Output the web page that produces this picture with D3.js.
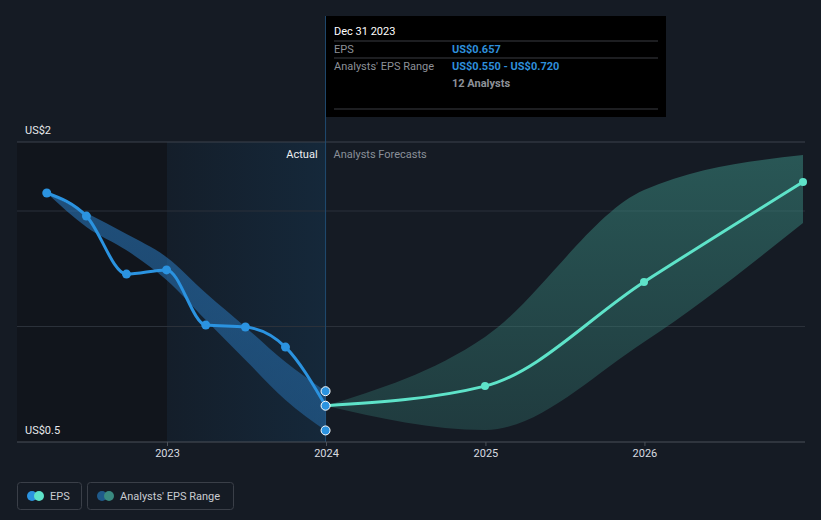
<!DOCTYPE html>
<html><head><meta charset="utf-8">
<script src="https://cdn.jsdelivr.net/npm/d3@7/dist/d3.min.js"></script>
<style>
html,body{margin:0;padding:0;background:#151b24;}
svg{display:block;font-family:Roboto,"Open Sans",sans-serif;}
</style></head><body>
<svg id="chart" width="821" height="520"></svg>
<script>
// ---- data ----
const pastDates = ["2022-03-31","2022-06-30","2022-09-30","2022-12-31","2023-03-31","2023-06-30","2023-09-30","2023-12-31"];
const pastEPS   = [1.578, 1.478, 1.227, 1.245, 1.006, 0.998, 0.911, 0.657];
const pastLow   = [1.578, 1.431, 1.330, 1.201, 1.028, 0.855, 0.682, 0.550];
const pastHigh  = [1.578, 1.491, 1.400, 1.300, 1.145, 0.998, 0.846, 0.720];
const fcDates = ["2023-12-31","2024-12-31","2025-12-31","2026-12-31"];
const fcEPS   = [0.657, 0.742, 1.193, 1.626];
const fcLow   = [0.657, 0.552, 0.933, 1.448];
const fcHigh  = [0.657, 0.955, 1.591, 1.742];
const xTickLabels = ["2023","2024","2025","2026"];
const yGridValues = [1.0, 1.5];
const yTickLabels = ["US$2","US$0.5"];
const tooltipTitle = "Dec 31 2023";
const tooltipRows = [["EPS","US$0.657"],["Analysts' EPS Range","US$0.550 - US$0.720"],["","12 Analysts"]];
const legendItems = ["EPS","Analysts' EPS Range"];

(function(){
// ---- scales ----
const parse = d3.timeParse("%Y-%m-%d");
const svg = d3.select("#chart");
const x = d3.scaleTime().domain([new Date(2023,0,1), new Date(2024,0,1)]).range([167,326]);
const y = d3.scaleLinear().domain([0.5,1.5]).range([442,211]);
const pL = 17, pR = 805, pT = 142, pB = 442;
const nowX = x(parse("2023-12-31"));
const x2023 = x(new Date(2023,0,1));

const defs = svg.append("defs");
const g1 = defs.append("linearGradient").attr("id","hl").attr("x1",0).attr("x2",1).attr("y1",0).attr("y2",0);
g1.append("stop").attr("offset","0%").attr("stop-color","#141e2a");
g1.append("stop").attr("offset","100%").attr("stop-color","#15283a");
const g2 = defs.append("linearGradient").attr("id","fcband").attr("gradientUnits","userSpaceOnUse").attr("x1",0).attr("x2",0).attr("y1",pT).attr("y2",pB);
g2.append("stop").attr("offset","0%").attr("stop-color","#3a8a80").attr("stop-opacity",0.55);
g2.append("stop").attr("offset","100%").attr("stop-color","#3a8a80").attr("stop-opacity",0.28);
const g3 = defs.append("linearGradient").attr("id","pband").attr("gradientUnits","userSpaceOnUse").attr("x1",0).attr("x2",0).attr("y1",pT).attr("y2",pB);
g3.append("stop").attr("offset","0%").attr("stop-color","#2a7cc4").attr("stop-opacity",0.6);
g3.append("stop").attr("offset","100%").attr("stop-color","#2a7cc4").attr("stop-opacity",0.42);

// background regions
svg.append("rect").attr("x",pL).attr("y",pT).attr("width",x2023-pL).attr("height",pB-pT).attr("fill","#11151c");
svg.append("rect").attr("x",x2023).attr("y",pT).attr("width",nowX-x2023).attr("height",pB-pT).attr("fill","url(#hl)");

// grid
svg.selectAll(".grid").data(yGridValues).enter().append("line")
  .attr("x1",pL).attr("x2",pR).attr("y1",d=>y(d)).attr("y2",d=>y(d))
  .attr("stroke","#2b313a").attr("stroke-width",1);
svg.append("line").attr("x1",pL).attr("x2",pR).attr("y1",pT).attr("y2",pT).attr("stroke","#3d434c");

// now line
svg.append("line").attr("x1",nowX).attr("x2",nowX).attr("y1",16).attr("y2",pB).attr("stroke","#1f4b70").attr("stroke-width",1);

// bands
const past = pastDates.map((d,i)=>({d:parse(d),v:pastEPS[i],lo:pastLow[i],hi:pastHigh[i]}));
const fc = fcDates.map((d,i)=>({d:parse(d),v:fcEPS[i],lo:fcLow[i],hi:fcHigh[i]}));
const area = d3.area().x(d=>x(d.d)).y0(d=>y(d.lo)).y1(d=>y(d.hi)).curve(d3.curveMonotoneX);
svg.append("path").datum(past).attr("d",area).attr("fill","url(#pband)");
svg.append("path").datum(fc).attr("d",area).attr("fill","url(#fcband)");

// lines
const line = d3.line().x(d=>x(d.d)).y(d=>y(d.v)).curve(d3.curveMonotoneX);
svg.append("path").datum(past).attr("d",line).attr("fill","none").attr("stroke","#2b93e0").attr("stroke-width",3);
svg.append("path").datum(fc).attr("d",line).attr("fill","none").attr("stroke","#5ee3c9").attr("stroke-width",3);

// points
svg.selectAll(".pp").data(past.slice(0,-1)).enter().append("circle")
  .attr("cx",d=>x(d.d)).attr("cy",d=>y(d.v)).attr("r",4.5).attr("fill","#2b93e0");
svg.selectAll(".fp").data(fc.slice(1)).enter().append("circle")
  .attr("cx",d=>x(d.d)).attr("cy",d=>y(d.v)).attr("r",4).attr("fill","#5ee3c9");
const last = past[past.length-1];
[last.hi, last.lo, last.v].forEach(v=>{
  svg.append("circle").attr("cx",x(last.d)).attr("cy",y(v)).attr("r",4.5).attr("fill","#2b93e0").attr("stroke","#ffffff").attr("stroke-width",1);
});

// x axis
svg.append("line").attr("x1",pL).attr("x2",pR).attr("y1",pB).attr("y2",pB).attr("stroke","#4a5058");
const xAxis = d3.axisBottom(x).tickValues(xTickLabels.map(t=>new Date(+t,0,1))).tickFormat(d3.timeFormat("%Y")).tickSize(4).tickPadding(3);
const xa = svg.append("g").attr("transform",`translate(0,${pB})`).call(xAxis);
xa.select(".domain").remove();
xa.selectAll("line").attr("stroke","#4a5058");
xa.selectAll("text").attr("fill","#d8dbe0").attr("font-size",11).attr("font-family","Roboto,sans-serif");

// y labels
svg.append("text").attr("x",25).attr("y",pT-8).text(yTickLabels[0]).attr("fill","#e6e8eb").attr("font-size",11);
svg.append("text").attr("x",25).attr("y",pB-8).text(yTickLabels[1]).attr("fill","#e6e8eb").attr("font-size",11);

// Actual / Forecast
svg.append("text").attr("x",nowX-8).attr("y",158).attr("text-anchor","end").text("Actual").attr("fill","#eef0f2").attr("font-size",11);
svg.append("text").attr("x",nowX+8).attr("y",158).text("Analysts Forecasts").attr("fill","#8a9099").attr("font-size",11);

// tooltip
const tt = svg.append("g");
tt.append("rect").attr("x",326).attr("y",16).attr("width",340).attr("height",101).attr("fill","#000000");
tt.append("text").attr("x",334).attr("y",35).text(tooltipTitle).attr("fill","#ffffff").attr("font-size",11);
[41,58,109].forEach(yy=>tt.append("line").attr("x1",334).attr("x2",658).attr("y1",yy).attr("y2",yy).attr("stroke","#3a3d42"));
tooltipRows.forEach((r,i)=>{
  const yy = 53 + i*17;
  tt.append("text").attr("x",334).attr("y",yy).text(r[0]).attr("fill","#8d9198").attr("font-size",11);
  tt.append("text").attr("x",452).attr("y",yy).text(r[1]).attr("fill", i<2?"#2e8fdb":"#8d9198").attr("font-size",11).attr("font-weight","bold");
});

// legend
const lg = svg.append("g");
const boxes = [{x:17,w:64},{x:87,w:146}];
legendItems.forEach((t,i)=>{
  const b = boxes[i];
  lg.append("rect").attr("x",b.x+0.5).attr("y",482.5).attr("width",b.w).attr("height",27).attr("rx",3).attr("fill","none").attr("stroke","#3a3f48");
  const c1 = i===0?"#2b93e0":"#1f5a8a", c2 = i===0?"#5ee3c9":"#3a8a80";
  lg.append("circle").attr("cx",b.x+15).attr("cy",496).attr("r",5).attr("fill",c1);
  lg.append("circle").attr("cx",b.x+22).attr("cy",496).attr("r",5).attr("fill",c2);
  lg.append("text").attr("x",b.x+33).attr("y",500).text(t).attr("fill","#c9ccd1").attr("font-size",11);
});
})();
</script></body></html>
